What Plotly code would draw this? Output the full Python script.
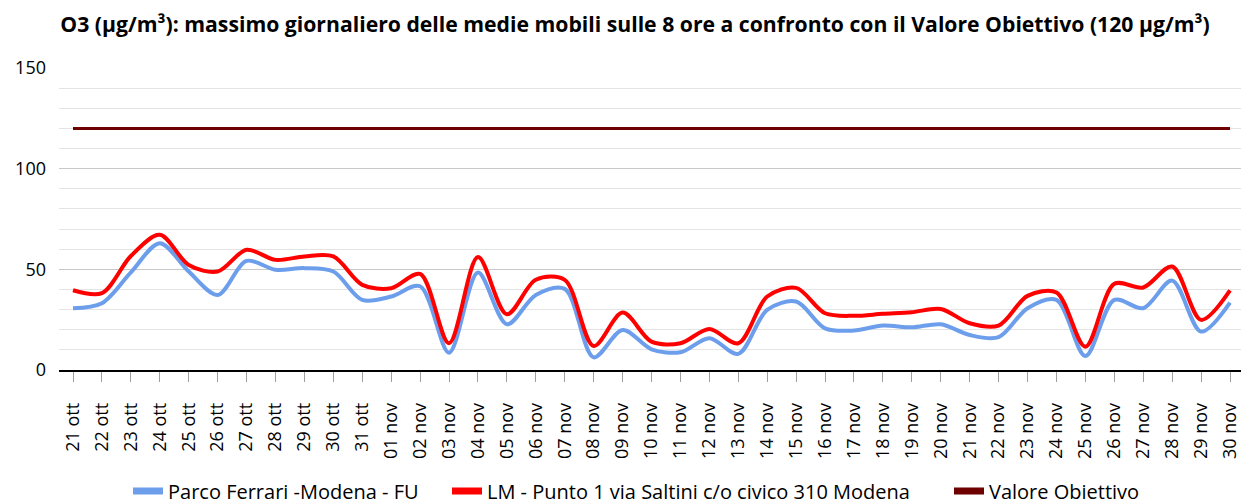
import plotly.graph_objects as go

days = ["21 ott", "22 ott", "23 ott", "24 ott", "25 ott", "26 ott", "27 ott", "28 ott", "29 ott", "30 ott", "31 ott",
        "01 nov", "02 nov", "03 nov", "04 nov", "05 nov", "06 nov", "07 nov", "08 nov", "09 nov", "10 nov",
        "11 nov", "12 nov", "13 nov", "14 nov", "15 nov", "16 nov", "17 nov", "18 nov", "19 nov", "20 nov",
        "21 nov", "22 nov", "23 nov", "24 nov", "25 nov", "26 nov", "27 nov", "28 nov", "29 nov", "30 nov"]

parco_ferrari = [30.7, 33.2, 48.5, 63.0, 48.9, 37.3, 54.2, 49.8, 50.6, 48.9, 34.8,
                 36.5, 41.6, 8.6, 48.4, 22.7, 37.3, 40.3, 6.3, 19.9, 10.3,
                 8.8, 15.8, 8.0, 29.9, 34.0, 20.7, 19.6, 22.1, 21.2, 22.7,
                 17.4, 16.3, 30.7, 34.8, 7.0, 34.8, 30.7, 44.4, 19.1, 33.5]

lm_saltini = [39.6, 38.2, 56.6, 67.2, 52.2, 48.9, 59.7, 54.7, 56.4, 56.4, 42.3,
              40.6, 47.7, 13.3, 56.1, 27.7, 44.8, 44.8, 11.9, 28.5, 14.1,
              13.3, 20.4, 13.3, 36.5, 40.8, 28.2, 26.9, 27.9, 28.7, 30.3,
              23.2, 22.1, 36.8, 38.5, 11.6, 42.8, 41.0, 51.4, 24.9, 39.5]

valore_obiettivo = [120] * len(days)

names = ["Parco Ferrari -Modena - FU", "LM - Punto 1 via Saltini c/o civico 310 Modena", "Valore Obiettivo"]
colors = ["#6D9EEB", "#FF0000", "#6E0000"]

x = list(range(len(days)))
fig = go.Figure()
fig.add_trace(go.Scatter(x=x, y=valore_obiettivo, name=names[2], mode="lines",
                         line=dict(color=colors[2], width=3), showlegend=False))
fig.add_trace(go.Scatter(x=x, y=parco_ferrari, name=names[0], mode="lines",
                         line=dict(color=colors[0], width=4, shape="spline", smoothing=0.9),
                         showlegend=False))
fig.add_trace(go.Scatter(x=x, y=lm_saltini, name=names[1], mode="lines",
                         line=dict(color=colors[1], width=4, shape="spline", smoothing=0.9),
                         showlegend=False))

# legend entries (one legend per item, positioned like the reference)
legend_ids = ["legend", "legend2", "legend3"]
legend_left = [128, 447, 949]
for nm, col, lid in zip(names, colors, legend_ids):
    fig.add_trace(go.Scatter(x=[None], y=[None], name=nm, mode="lines",
                             line=dict(color=col, width=7), legend=lid, showlegend=True))

legend_common = dict(orientation="h", xref="container", yref="container", xanchor="left",
                     y=1 - 491 / 504, yanchor="middle", itemwidth=30,
                     font=dict(family="Open Sans", size=20, color="#000000"),
                     bgcolor="rgba(0,0,0,0)", borderwidth=0)

fig.update_layout(
    width=1242, height=504,
    margin=dict(l=59, r=1, t=68, b=134, autoexpand=False),
    paper_bgcolor="white", plot_bgcolor="white",
    title=dict(text="<b>O3 (µg/m³): massimo giornaliero delle medie mobili sulle 8 ore a confronto con il Valore Obiettivo (120 µg/m³)</b>",
               x=635 / 1242, xanchor="center", xref="container",
               y=1 - 25 / 504, yanchor="middle", yref="container",
               font=dict(family="Open Sans", size=21.2, color="#000000")),
    font=dict(family="Open Sans", color="#000000"),
    legend=dict(x=legend_left[0] / 1242, **legend_common),
    legend2=dict(x=legend_left[1] / 1242, **legend_common),
    legend3=dict(x=legend_left[2] / 1242, **legend_common),
    showlegend=True,
)
fig.update_xaxes(
    range=[-0.484, 40.38], automargin=False,
    tickvals=x, ticktext=days, tickangle=-90,
    tickfont=dict(family="Open Sans", size=18, color="#000000"),
    showline=True, linecolor="#000000", linewidth=1.5,
    ticks="outside", ticklen=10, tickcolor="#A0A0A0", tickwidth=1,
    showgrid=False, zeroline=False, ticklabelstandoff=14,
)
fig.update_yaxes(
    range=[0, 150], automargin=False,
    tickvals=[0, 50, 100, 150],
    tickfont=dict(family="Open Sans", size=18, color="#000000"),
    showgrid=True, gridcolor="#C8C8C8", gridwidth=1.2,
    minor=dict(dtick=10, showgrid=True, gridcolor="#E4E4E4", gridwidth=1.2),
    zeroline=False, showline=False, ticks="", ticklabelstandoff=12,
)

fig.write_html("out.html", config={"displayModeBar": False},
               post_script="document.body.style.margin='0px';document.body.style.overflow='hidden';")
